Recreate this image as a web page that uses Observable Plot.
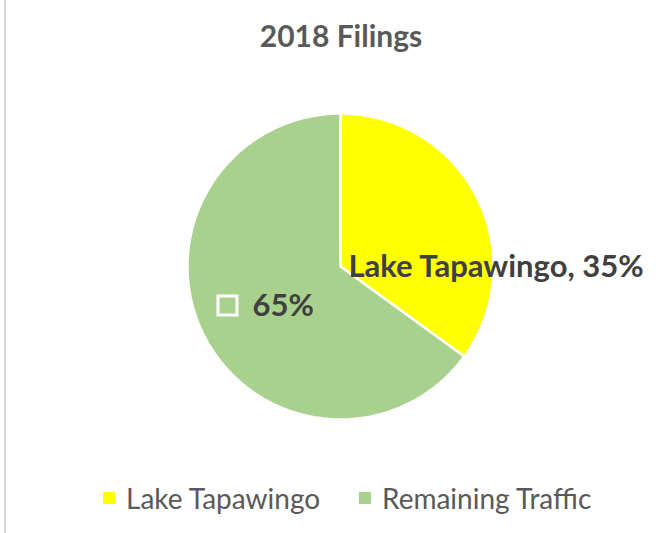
<!DOCTYPE html>
<html>
<head>
<meta charset="utf-8">
<script src="https://cdn.jsdelivr.net/npm/d3@7"></script>
<script src="https://cdn.jsdelivr.net/npm/@observablehq/plot@0.6"></script>
<style>
  html, body { margin: 0; padding: 0; background: #fff; }
  #wrap { position: relative; width: 670px; height: 533px; overflow: hidden; font-family: Lato, "Open Sans", sans-serif; }
  #border { position: absolute; left: 4px; top: 0; width: 2px; height: 533px; background: #d9d9d9; }
  #title { position: absolute; left: 12px; width: 658px; top: 20px; text-align: center; font-size: 30px; font-weight: bold; color: #595959; line-height: 30px; }
  #chart { position: absolute; left: 0; top: 75px; }
  .item { position: absolute; top: 483px; height: 30px; display: flex; align-items: center; font-size: 28px; color: #595959; line-height: 30px; white-space: nowrap; }
  .sw { width: 12px; height: 12px; display: inline-block; margin-right: 11px; }
</style>
</head>
<body>
<div id="wrap">
  <div id="border"></div>
  <div id="title">2018 Filings</div>
  <div id="chart"></div>
</div>
<script>
const categories = ["Lake Tapawingo", "Remaining Traffic"];
const shares = [35, 65];
const colors = ["#FFFF00", "#A9D18E"];
const labelTexts = ["Lake Tapawingo, 35%", "65%"];

const W = 670, H = 382, TOP = 75;
const R = 153, cx = 340, cy = 191;

const pie = d3.pie().sort(null).value(d => d.share)(categories.map((c, i) => ({category: c, share: shares[i]})));

// slice outlines from the pie angles (0 = top, clockwise)
const pts = [];
for (const a of pie) {
  const c = a.data.category;
  pts.push({category: c, x: 0, y: 0});
  const n = 120;
  for (let k = 0; k <= n; k++) {
    const t = a.startAngle + (a.endAngle - a.startAngle) * k / n;
    pts.push({category: c, x: Math.sin(t), y: Math.cos(t)});
  }
  pts.push({category: c, x: 0, y: 0});
}

// pixel -> data helpers (labels placed like Excel's best-fit)
const px = v => (v - cx) / R;
const py = v => -(v - TOP - cy) / R;
const labels = [
  {text: labelTexts[0], x: px(348), y: py(267)},
  {text: labelTexts[1], x: px(252), y: py(306)}
];

const chart = Plot.plot({
  width: W, height: H,
  margin: 0,
  x: {domain: [-cx / R, (W - cx) / R], range: [0, W], axis: null},
  y: {domain: [-(H - cy) / R, cy / R], range: [H, 0], axis: null},
  color: {domain: categories, range: colors},
  marks: [
    Plot.line(pts, {x: "x", y: "y", z: "category", fill: "category", stroke: "white", strokeWidth: 2.5, curve: "linear"}),
    Plot.text(labels, {x: "x", y: "y", text: "text", textAnchor: "start", fontSize: 31, fontWeight: "bold", fill: "#404040", fontFamily: "Lato"}),
    Plot.dot([{x: px(227), y: py(305)}], {x: "x", y: "y", symbol: "square", r: 10.7, stroke: "white", strokeWidth: 3, fill: "none"})
  ]
});
document.getElementById("chart").appendChild(chart);

const wrap = document.getElementById("wrap");
const legendLeft = [103, 359];
categories.forEach((c, i) => {
  const it = document.createElement("div");
  it.className = "item";
  it.style.left = legendLeft[i] + "px";
  const sw = document.createElement("span");
  sw.className = "sw";
  sw.style.background = colors[i];
  const tx = document.createElement("span");
  tx.textContent = c;
  it.appendChild(sw); it.appendChild(tx);
  wrap.appendChild(it);
});
</script>
</body>
</html>
